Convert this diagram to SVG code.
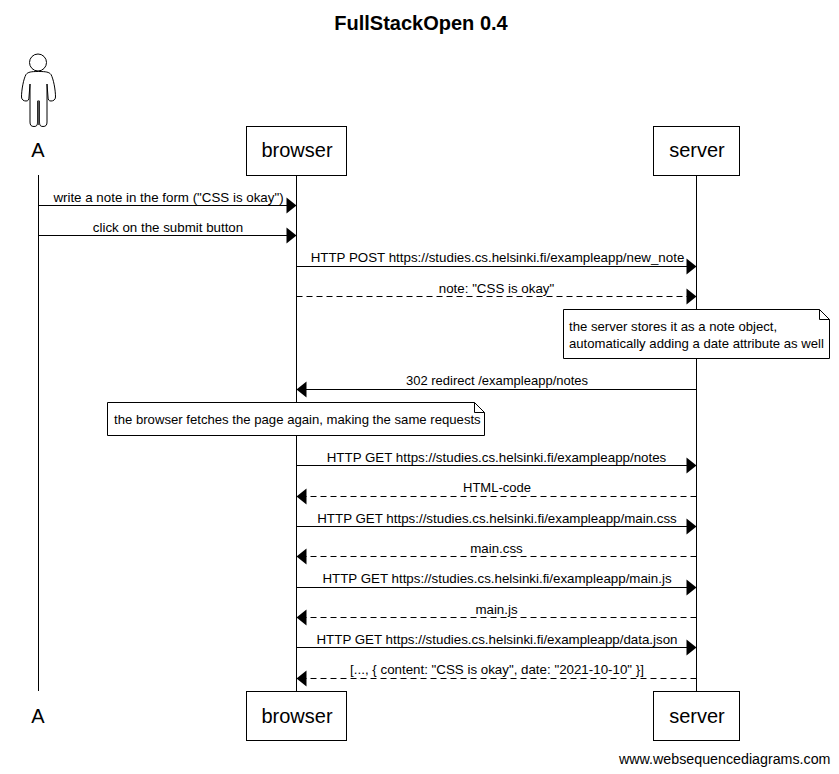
<svg xmlns="http://www.w3.org/2000/svg" width="839" height="774" viewBox="0 0 839 774">
<style>
text{font-family:"Liberation Sans",Arial,sans-serif;fill:#000}
.t{font-size:13.33px;text-anchor:middle}
.s{font-size:13px}
.n{font-size:13.15px}
.p{font-size:20px;text-anchor:middle}
.b{fill:#fff;stroke:#000;stroke-width:1}
.l{fill:none;stroke:#000;stroke-width:1}
.d{stroke-dasharray:6 4}
</style>
<defs>
<polygon id="r" points="-10,-8 0,0 -10,8" fill="#000"/>
<polygon id="h" points="10,-8 0,0 10,8" fill="#000"/>
</defs>
<rect width="839" height="774" fill="#fff"/>
<text x="421" y="30" font-size="20" font-weight="bold" text-anchor="middle">FullStackOpen 0.4</text>
<g id="connectors">
<path class="l" d="M38.5 175V691M296.5 175V691M696.5 175V691"/>
<path class="l" d="M38.5 205.500H287M38.500 235.500H287M296.500 266.500H687M296.500 465.500H687M296.500 526.500H687M296.500 587.500H687M296.500 647.500H687M696.500 389.500H306"/>
<path class="l d" d="M296.500 296.500H687M696.500 496.500H306M696.500 556.500H306M696.500 617.500H306M696.500 678.500H306"/>
<use href="#r" x="296.500" y="205.500"/><use href="#r" x="296.500" y="235.500"/><use href="#r" x="696.500" y="266.500"/><use href="#r" x="696.500" y="296.500"/>
<use href="#h" x="296.500" y="389.500"/><use href="#r" x="696.500" y="465.500"/><use href="#h" x="296.500" y="496.500"/><use href="#r" x="696.500" y="526.500"/>
<use href="#h" x="296.500" y="556.500"/><use href="#r" x="696.500" y="587.500"/><use href="#h" x="296.500" y="617.500"/><use href="#r" x="696.500" y="647.500"/><use href="#h" x="296.500" y="678.500"/>
<text class="t" x="168.500" y="202">write a note in the form ("CSS is okay")</text>
<text class="t" x="168" y="232">click on the submit button</text>
<text class="t" x="497.500" y="262">HTTP POST https://studies.cs.helsinki.fi/exampleapp/new_note</text>
<text class="t" x="496.500" y="293">note: "CSS is okay"</text>
<text class="t s" x="497" y="385">302 redirect /exampleapp/notes</text>
<text class="t" x="496.500" y="462">HTTP GET https://studies.cs.helsinki.fi/exampleapp/notes</text>
<text class="t s" x="497" y="492">HTML-code</text>
<text class="t" x="497" y="523">HTTP GET https://studies.cs.helsinki.fi/exampleapp/main.css</text>
<text class="t" x="496.500" y="553">main.css</text>
<text class="t" x="497" y="583">HTTP GET https://studies.cs.helsinki.fi/exampleapp/main.js</text>
<text class="t" x="496.500" y="614">main.js</text>
<text class="t" x="497" y="644">HTTP GET https://studies.cs.helsinki.fi/exampleapp/data.json</text>
<text class="t" x="497" y="674">[..., { content: "CSS is okay", date: "2021-10-10" }]</text>
</g>
<g id="actor-A">
<circle class="l" cx="38" cy="62.500" r="8.500"/>
<path class="l" d="M38.500 71.500C31 71.500 28 72 26 74.500C23.500 79 21.500 90 21.500 97C21.500 100 24 101 26 101C28 101 29 100 29 97L30 84V122C30 125 31 126.500 34 126.500C37 126.500 37.500 125 37.500 122V101H39.500V122C39.500 125 40 126.500 43 126.500C46 126.500 47 125 47 122V84L48 97C48 100 49 101 51 101C53 101 55.500 100 55.500 97C55.500 90 53.500 79 51 74.500C49 72 46 71.500 38.500 71.500Z"/>
<rect x="37.500" y="101" width="2" height="24" fill="#555"/>
<text class="p" x="38" y="157">A</text>
</g>
<g id="browser-top"><rect class="b" x="246.500" y="126.500" width="100" height="49"/><text class="p" x="297" y="157">browser</text></g>
<g id="server-top"><rect class="b" x="653.500" y="126.500" width="86" height="49"/><text class="p" x="697" y="157">server</text></g>
<g id="note-server">
<path class="b" d="M563.500 309.500H819.500L829.500 319.500V358.500H563.500Z"/><path class="l" d="M819.500 309.500V319.500H829.500"/>
<text class="n" x="569" y="331">the server stores it as a note object,</text>
<text class="n" x="569" y="348">automatically adding a date attribute as well</text>
</g>
<g id="note-browser">
<path class="b" d="M107.500 402.500H474.500L484.500 412.500V435.500H107.500Z"/><path class="l" d="M474.500 402.500V412.500H484.500"/>
<text class="n" x="114" y="424">the browser fetches the page again, making the same requests</text>
</g>
<g id="actor-A-bottom"><text class="p" x="38" y="723">A</text></g>
<g id="browser-bottom"><rect class="b" x="246.500" y="691.500" width="100" height="49"/><text class="p" x="297" y="723">browser</text></g>
<g id="server-bottom"><rect class="b" x="653.500" y="691.500" width="86" height="49"/><text class="p" x="697" y="723">server</text></g>
<text x="830.500" y="764" font-size="14.250" text-anchor="end">www.websequencediagrams.com</text>
</svg>
